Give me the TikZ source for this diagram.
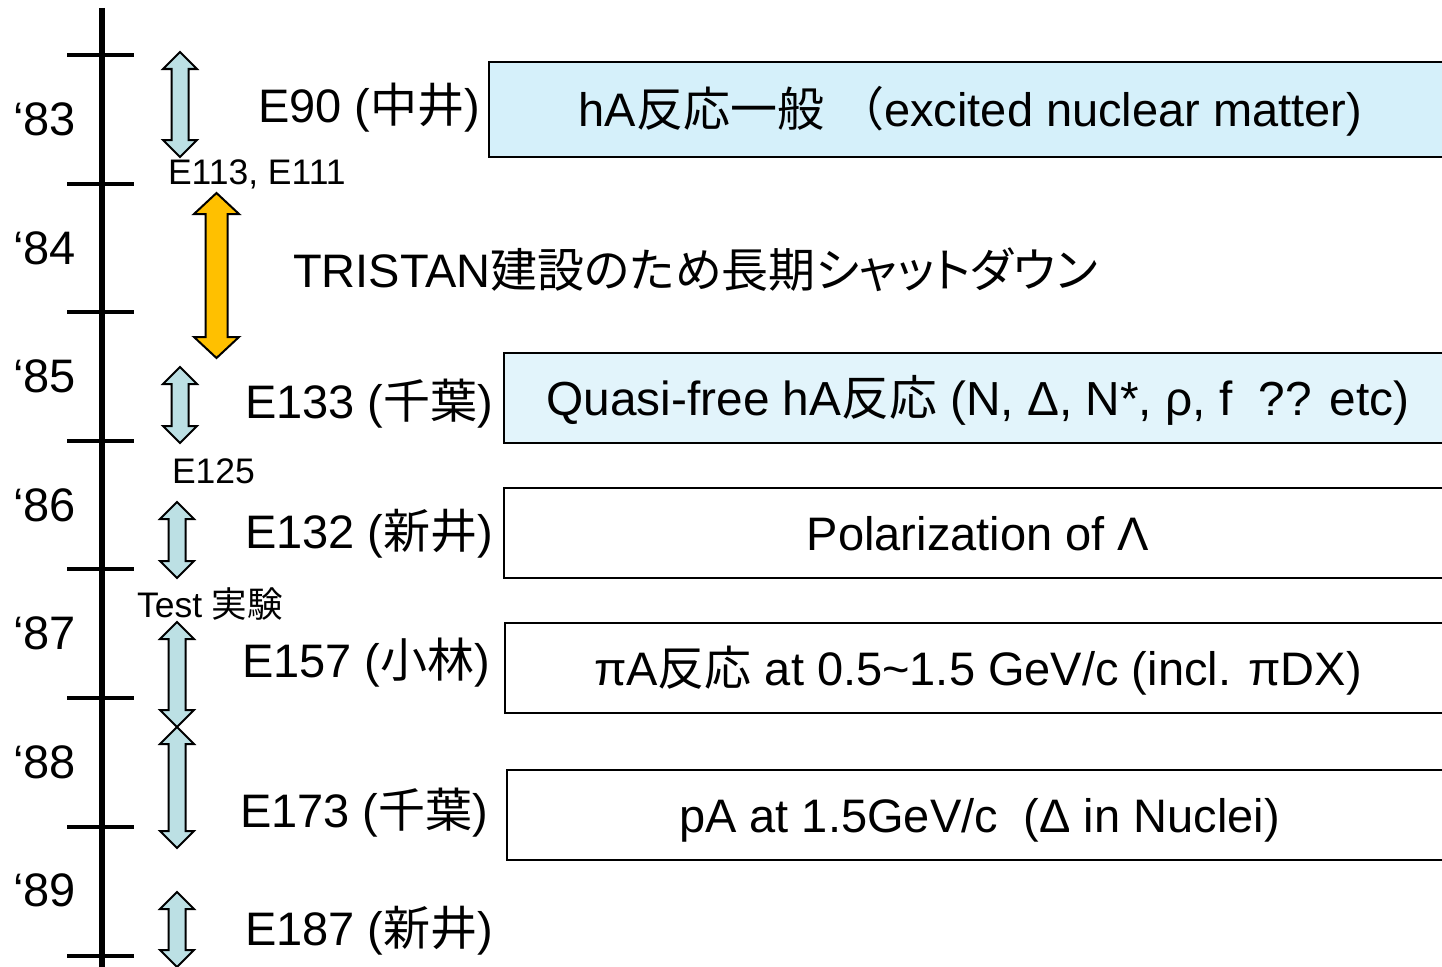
\documentclass[tikz,border=0pt]{standalone}
\usepackage{fontspec}
\setmainfont{Liberation Sans}
\newfontfamily\cjk[RawFeature=+palt]{Noto Sans CJK JP}
\newfontfamily\cjkfw{Noto Sans CJK JP}
\definecolor{arrowblue}{HTML}{BCE0E4}
\definecolor{arroworange}{HTML}{FFC000}
\definecolor{boxblueA}{HTML}{D5F0FA}
\definecolor{boxblueB}{HTML}{E2F4FB}
\newcommand{\dblarr}[7]{%
  \filldraw[blockarrow, fill=#7]
    ({#1-#4},{#2+#6}) -- ({#1-#5},{#2+#6}) -- (#1,#2) -- ({#1+#5},{#2+#6}) --
    ({#1+#4},{#2+#6}) -- ({#1+#4},{#3-#6}) -- ({#1+#5},{#3-#6}) -- (#1,#3) --
    ({#1-#5},{#3-#6}) -- ({#1-#4},{#3-#6}) -- cycle;}
\tikzset{
  big/.style={font=\fontsize{47}{56}\selectfont, anchor=base west, inner sep=0pt, outer sep=0pt},
  small/.style={font=\fontsize{35.5}{42}\selectfont, anchor=base west, inner sep=0pt, outer sep=0pt},
  boxtext/.style={font=\fontsize{47}{56}\selectfont, anchor=base, inner sep=0pt, outer sep=0pt},
  topicbox/.style={draw=black, line width=2.5pt},
  blockarrow/.style={draw=black, line width=2pt, line join=miter},
  yeartick/.style={line width=4pt},
  axisline/.style={line width=6pt}
}
\begin{document}
\begin{tikzpicture}[x=1pt, y=-1pt]
\useasboundingbox (0,0) rectangle (1442,966);
\clip (0,0) rectangle (1442,966);
% axis
\draw[axisline] (101.5,8) -- (101.5,970);
\foreach \t in {55,183.5,312,440.5,569,698,827,955.5}
  \draw[yeartick] (67,\t) -- (134,\t);
% years
\node[big] (y83) at (13,135) {‘83};
\node[big] (y84) at (13,264) {‘84};
\node[big] (y85) at (13,392) {‘85};
\node[big] (y86) at (13,521) {‘86};
\node[big] (y87) at (13,649) {‘87};
\node[big] (y88) at (13,778) {‘88};
\node[big] (y89) at (13,906) {‘89};
% boxes
\draw[topicbox, fill=boxblueA] (489,62) rectangle (1452,157);
\draw[topicbox, fill=boxblueB] (504,353) rectangle (1452,443);
\draw[topicbox, fill=white] (504,488) rectangle (1452,578);
\draw[topicbox, fill=white] (505,623) rectangle (1452,713);
\draw[topicbox, fill=white] (507,770) rectangle (1452,860);
% arrows
\dblarr{180}{52}{157}{8.5}{17}{17}{arrowblue}
\dblarr{216.5}{193}{358}{11}{22.5}{21}{arroworange}
\dblarr{180}{367}{443}{8.5}{17}{17}{arrowblue}
\dblarr{177}{502}{578}{8.5}{17}{17}{arrowblue}
\dblarr{177}{622}{727}{8.5}{17}{17}{arrowblue}
\dblarr{177}{727}{848}{8.5}{17}{17}{arrowblue}
\dblarr{177}{892}{967}{8.5}{17}{17}{arrowblue}
% labels
\node[big] (e90) at (258,122) {E90 ({\cjk 中井})};
\node[small] (e113) at (168,184) {E113, E111};
\node[big] (tri) at (293,287) {TRISTAN{\cjk 建設のため長期シャットダウン}};
\node[big] (e133) at (245,418) {E133 ({\cjk 千葉})};
\node[small] (e125) at (172,483) {E125};
\node[big] (e132) at (245,548) {E132 ({\cjk 新井})};
\node[small] (test) at (137,617) {Test {\cjk 実験}};
\node[big] (e157) at (242,677) {E157 ({\cjk 小林})};
\node[big] (e173) at (240,827) {E173 ({\cjk 千葉})};
\node[big] (e187) at (245,945) {E187 ({\cjk 新井})};
% box texts
\node[boxtext] (t1) at (970.5,126) {hA{\cjk 反応一般}\ {\cjkfw （}excited nuclear matter)};
\node[boxtext] (t2) at (978,415) {\fontsize{47.8}{56}\selectfont Quasi-free hA{\cjk 反応} (N, Δ, N*, ρ, f\hspace{0.55em}?? etc)};
\node[boxtext] (t3) at (978,550) {Polarization of Λ};
\node[boxtext] (t4) at (978,685) {πA{\cjk 反応} at 0.5\textasciitilde 1.5 GeV/c (incl. πDX)};
\node[boxtext] (t5) at (979.5,832) {pA at 1.5GeV/c\hspace{0.55em}(Δ in Nuclei)};
\end{tikzpicture}
\end{document}
